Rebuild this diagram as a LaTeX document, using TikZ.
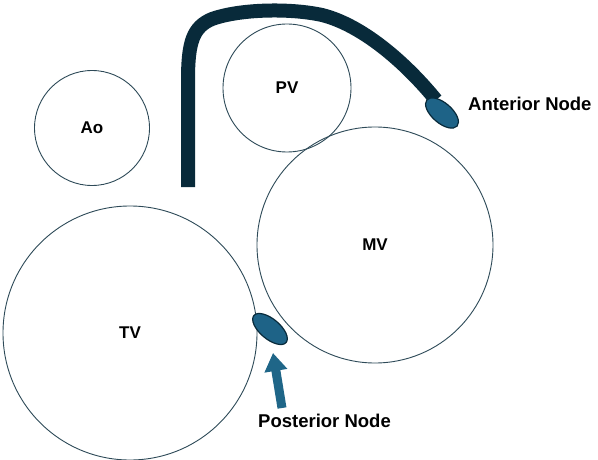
\documentclass[tikz,border=0pt]{standalone}
\usepackage{fontspec}
\setmainfont{Liberation Sans}
\usetikzlibrary{shapes.geometric,arrows.meta}
\definecolor{ring}{HTML}{2E4A58}
\definecolor{cath}{HTML}{082A3A}
\definecolor{nodefill}{HTML}{1E6387}
\definecolor{arrowc}{HTML}{1F6688}
\tikzset{
  valve/.style={circle, draw=ring, line width=0.9pt, inner sep=0pt, font=\fontsize{17}{20}\selectfont\bfseries},
  cnode/.style={ellipse, draw=cath, line width=1.2pt, fill=nodefill, inner sep=0pt},
  lbl/.style={font=\fontsize{18.5}{22}\selectfont\bfseries, inner sep=0pt, anchor=west}
}
\begin{document}
\begin{tikzpicture}[x=1pt,y=-1pt]
\useasboundingbox (0,0) rectangle (598,460);
\fill[white] (0,0) rectangle (598,460);
\node[valve, minimum size=115pt] (ao) at (92,128) {Ao};
\node[valve, minimum size=128pt] (pv) at (287,88) {PV};
\node[valve, minimum size=236pt] (mv) at (375,245) {MV};
\node[valve, minimum size=254pt] (tv) at (130,333) {TV};
\coordinate (c0) at (188,187);
\coordinate (c1) at (436,100);
\draw[cath, line width=14pt] (c0) -- (188,80) .. controls (188,42) and (193,27) .. (212,19) .. controls (240,9) and (290,8) .. (322,15) .. controls (362,25) and (405,62) .. (c1);
\node[cnode, minimum width=40pt, minimum height=20pt, rotate=-41] (an) at (442,113) {};
\node[cnode, minimum width=42pt, minimum height=20pt, rotate=-40] (pn) at (270,329) {};
\node[lbl] (antl) at (468,104) {Anterior Node};
\node[lbl] (postl) at (258,421) {Posterior Node};
\coordinate (ps) at (282,408);
\coordinate (pe) at (273,353);
\draw[arrowc, line width=9pt, -{Triangle[width=22pt,length=18pt]}] (ps) -- (pe);
\end{tikzpicture}
\end{document}
